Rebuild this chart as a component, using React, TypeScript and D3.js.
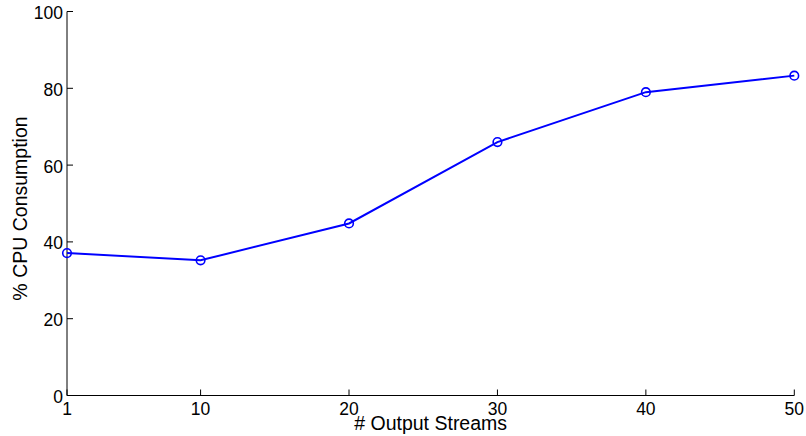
import React from "react";
import * as d3 from "d3";

const streams = [1, 10, 20, 30, 40, 50];
const cpu = [37.1, 35.2, 44.8, 66.0, 79.0, 83.3];
const xTicks = [1, 10, 20, 30, 40, 50];
const yTicks = [0, 20, 40, 60, 80, 100];
const xLabel = "# Output Streams";
const yLabel = "% CPU Consumption";

const W = 806;
const H = 436;
const left = 67;
const right = 794.3;
const top = 11.5;
const bottom = 395.5;

export default function App() {
  const x = d3.scaleLinear().domain([1, 50]).range([left, right]);
  const y = d3.scaleLinear().domain([0, 100]).range([bottom, top]);
  const pts = streams.map((s, i) => [x(s), y(cpu[i])] as [number, number]);
  const line = d3.line()(pts) || "";
  const font = "'Liberation Sans', Arial, Helvetica, sans-serif";
  return (
    <svg
      width={W}
      height={H}
      style={{ position: "absolute", left: 0, top: 0, background: "#fff" }}
      fontFamily={font}
    >
      <rect x={0} y={0} width={W} height={H} fill="#fff" />
      <line x1={left} x2={right} y1={bottom} y2={bottom} stroke="#000" strokeWidth={1} />
      <line x1={left} x2={left} y1={top} y2={bottom} stroke="#000" strokeWidth={1} />
      {yTicks.map((t) => (
        <g key={"y" + t}>
          <line x1={left} x2={left + 6} y1={y(t)} y2={y(t)} stroke="#000" strokeWidth={1} />
          <text x={left - 4} y={y(t) + 7.5} textAnchor="end" fontSize={17.5} fill="#000">
            {t}
          </text>
        </g>
      ))}
      {xTicks.map((t) => (
        <g key={"x" + t}>
          <line x1={x(t)} x2={x(t)} y1={bottom} y2={bottom - 6} stroke="#000" strokeWidth={1} />
          <text x={x(t)} y={415} textAnchor="middle" fontSize={17.5} fill="#000">
            {t}
          </text>
        </g>
      ))}
      <text x={(left + right) / 2} y={430} textAnchor="middle" fontSize={19.5} fill="#000">
        {xLabel}
      </text>
      <text
        transform={`translate(27,${(top + bottom) / 2 + 5}) rotate(-90)`}
        textAnchor="middle"
        fontSize={19.5}
        fill="#000"
      >
        {yLabel}
      </text>
      <path d={line} fill="none" stroke="#0000ff" strokeWidth={2} />
      {pts.map((p, i) => (
        <circle key={i} cx={p[0]} cy={p[1]} r={4.3} fill="none" stroke="#0000ff" strokeWidth={1.6} />
      ))}
    </svg>
  );
}
